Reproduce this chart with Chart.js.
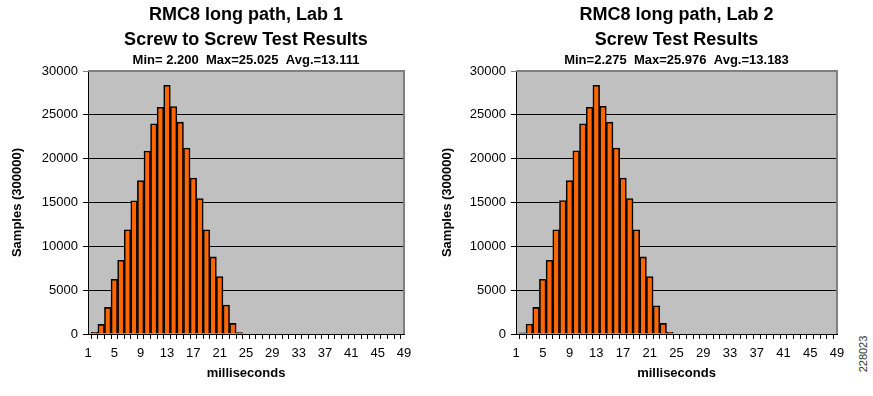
<!DOCTYPE html>
<html>
<head>
<meta charset="utf-8">
<script src="https://cdn.jsdelivr.net/npm/chart.js@4.4.1/dist/chart.umd.min.js"></script>
<style>
  html, body { margin: 0; padding: 0; background: #fff; }
  body { width: 873px; height: 396px; position: relative; overflow: hidden; }
  .box { position: absolute; top: 0; }
  #code {
    position: absolute; left: 838px; top: 348px; width: 50px;
    font: 11px "Liberation Sans", Arial, sans-serif; color: #333;
    transform: rotate(-90deg); transform-origin: center center; text-align: center;
  }
</style>
</head>
<body>
<div class="box" style="left:0px"><canvas id="chart1" width="424" height="396"></canvas></div>
<div class="box" style="left:430px"><canvas id="chart2" width="424" height="396"></canvas></div>
<div id="code">228023</div>
<script>
// category labels 1..49 ms
const msLabels = ['1','2','3','4','5','6','7','8','9','10','11','12','13','14','15','16','17',
  '18','19','20','21','22','23','24','25','26','27','28','29','30','31','32','33','34','35',
  '36','37','38','39','40','41','42','43','44','45','46','47','48','49'];

// samples per ms bucket
const lab1Samples = [0, 190, 1100, 3030, 6250, 8410, 11890, 15190, 17500, 20870, 23980, 25870,
  28370, 25950, 24170, 21210, 17800, 15450, 11890, 8790, 6550, 3300, 1210, 150,
  0, 0, 0, 0, 0, 0, 0, 0, 0, 0, 0, 0, 0, 0, 0, 0, 0, 0, 0, 0, 0, 0, 0, 0, 0];
const lab2Samples = [0, 120, 1140, 3030, 6250, 8410, 11890, 15230, 17500, 20900, 23980, 25870,
  28370, 25980, 24170, 21210, 17800, 15450, 11890, 8790, 6550, 3220, 1210, 190,
  0, 0, 0, 0, 0, 0, 0, 0, 0, 0, 0, 0, 0, 0, 0, 0, 0, 0, 0, 0, 0, 0, 0, 0, 0];

const lab1Title = ['RMC8 long path, Lab 1', 'Screw to Screw Test Results'];
const lab1Stats = 'Min= 2.200  Max=25.025  Avg.=13.111';
const lab2Title = ['RMC8 long path, Lab 2', 'Screw Test Results'];
const lab2Stats = 'Min=2.275  Max=25.976  Avg.=13.183';

const FONT = '"Liberation Sans", Arial, sans-serif';

// grey plot background + grey frame on top/right
const plotFrame = {
  id: 'plotFrame',
  beforeDraw(chart) {
    const a = chart.chartArea, ctx = chart.ctx;
    ctx.save();
    ctx.fillStyle = '#c0c0c0';
    ctx.fillRect(a.left, a.top, a.right - a.left, a.bottom - a.top);
    ctx.restore();
  },
  afterDraw(chart) {
    const a = chart.chartArea, ctx = chart.ctx;
    ctx.save();
    ctx.strokeStyle = '#808080';
    ctx.lineWidth = 2;
    ctx.beginPath();
    ctx.moveTo(a.left, a.top);
    ctx.lineTo(a.right, a.top);
    ctx.lineTo(a.right, a.bottom);
    ctx.stroke();
    ctx.restore();
  }
};

function makeChart(id, title, stats, values, yWidth, padRight) {
  const ctx = document.getElementById(id).getContext('2d');
  return new Chart(ctx, {
    type: 'bar',
    data: {
      labels: msLabels,
      datasets: [{
        data: values,
        backgroundColor: '#ff6600',
        borderColor: '#000000',
        borderWidth: 1.6,
        barPercentage: 1,
        categoryPercentage: 1
      }]
    },
    options: {
      responsive: false,
      animation: false,
      layout: { padding: { left: 0, right: padRight, top: 0, bottom: 0 } },
      plugins: {
        legend: { display: false },
        tooltip: { enabled: false },
        title: {
          display: true,
          text: title,
          fullSize: false,
          color: '#000',
          font: { family: FONT, size: 18, weight: 'bold', lineHeight: 1.39 },
          padding: { top: 2.5, bottom: 0 }
        },
        subtitle: {
          display: true,
          text: stats,
          fullSize: false,
          color: '#000',
          font: { family: FONT, size: 13, weight: 'bold', lineHeight: 1.2 },
          padding: { top: 0, bottom: 2.9 }
        }
      },
      scales: {
        x: {
          offset: false,
          afterFit(scale) { scale.height = 62; },
          grid: { drawOnChartArea: false, drawTicks: true, tickLength: 5, color: '#000' },
          border: { color: '#000', width: 1 },
          ticks: {
            autoSkip: false,
            maxRotation: 0,
            padding: 7,
            color: '#000',
            font: { family: FONT, size: 13 },
            callback(v, i) { return i % 4 === 0 ? msLabels[i] : ''; }
          },
          title: {
            display: true,
            text: 'milliseconds',
            color: '#000',
            font: { family: FONT, size: 13, weight: 'bold' },
            padding: { top: 0, bottom: 15 }
          }
        },
        y: {
          min: 0,
          max: 30000,
          afterFit(scale) { scale.width = yWidth; },
          grid: {
            color: c => (c.tick && c.tick.value === 30000) ? '#808080' : '#000',
            tickLength: 5,
            lineWidth: 1
          },
          border: { color: '#000', width: 1 },
          ticks: {
            stepSize: 5000,
            padding: 5,
            color: '#000',
            font: { family: FONT, size: 13 },
            callback(v) { return String(v); }
          },
          title: {
            display: true,
            text: 'Samples (300000)',
            color: '#000',
            font: { family: FONT, size: 13, weight: 'bold' },
            padding: { top: 10, bottom: 0 }
          }
        }
      }
    },
    plugins: [plotFrame]
  });
}

makeChart('chart1', lab1Title, lab1Stats, lab1Samples, 88, 20);
makeChart('chart2', lab2Title, lab2Stats, lab2Samples, 86, 17);
</script>
</body>
</html>
